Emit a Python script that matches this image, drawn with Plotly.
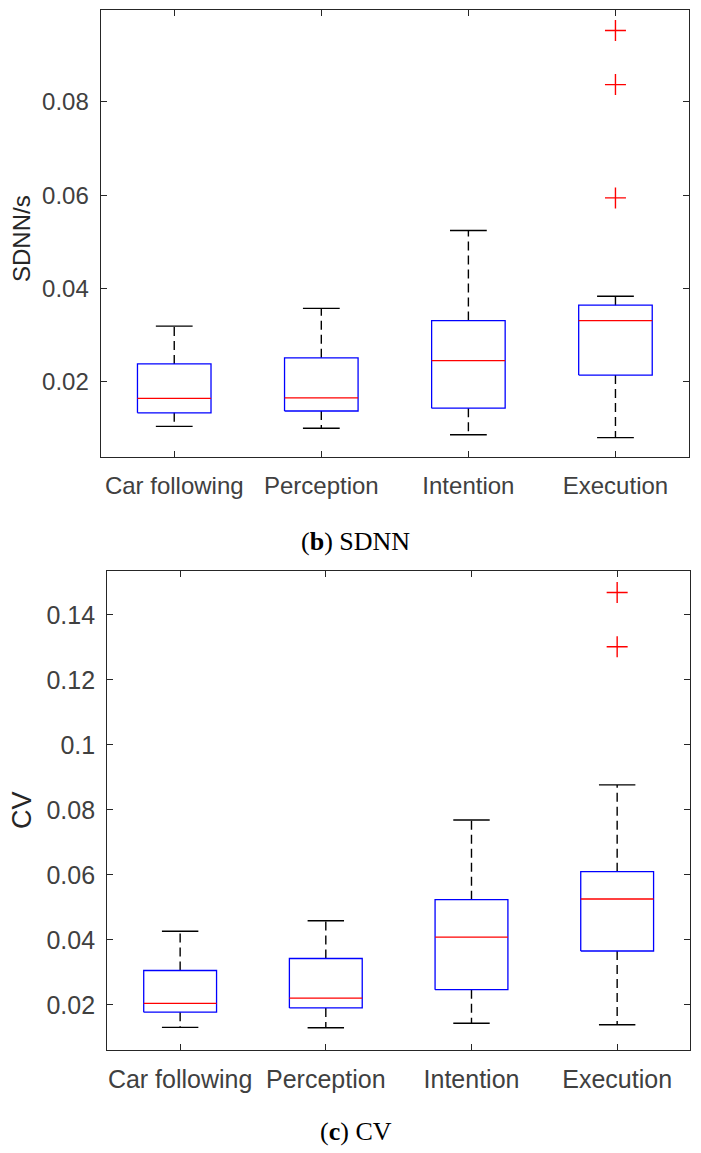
import plotly.graph_objects as go
from plotly.subplots import make_subplots

# categories on the x axis
categories = ["Car following", "Perception", "Intention", "Execution"]

# (b) SDNN box statistics
sdnn_lower = [0.0104, 0.0100, 0.0086, 0.0080]
sdnn_q1 = [0.0133, 0.0137, 0.0143, 0.0214]
sdnn_median = [0.0164, 0.0165, 0.0245, 0.0331]
sdnn_q3 = [0.0238, 0.0251, 0.0331, 0.0364]
sdnn_upper = [0.0319, 0.0357, 0.0524, 0.0383]
sdnn_out_cat = [3, 3, 3]
sdnn_out_val = [0.0953, 0.0837, 0.0594]

# (c) CV box statistics
cv_lower = [0.0131, 0.0130, 0.0144, 0.0139]
cv_q1 = [0.0178, 0.0191, 0.0247, 0.0366]
cv_median = [0.0205, 0.0221, 0.0409, 0.0526]
cv_q3 = [0.0306, 0.0343, 0.0524, 0.0610]
cv_upper = [0.0427, 0.0459, 0.0769, 0.0877]
cv_out_cat = [3, 3]
cv_out_val = [0.1469, 0.1302]

# tick labels
sdnn_ticks = [0.02, 0.04, 0.06, 0.08]
sdnn_ticktext = ["0.02", "0.04", "0.06", "0.08"]
cv_ticks = [0.02, 0.04, 0.06, 0.08, 0.10, 0.12, 0.14]
cv_ticktext = ["0.02", "0.04", "0.06", "0.08", "0.1", "0.12", "0.14"]

BOX_HALF = 0.25
CAP_HALF = 0.125
SANS = "Liberation Sans, Arial, sans-serif"
SERIF = "Liberation Serif, Times New Roman, serif"

# page body has an 8px margin, so the figure is drawn 8px smaller and shifted
OFF = 8
W, H = 701 - OFF, 1153 - OFF


def px(x):
    return (x - OFF) / W


def py(y):
    return 1 - (y - OFF) / H


fig = make_subplots(rows=2, cols=1)


def add_boxes(row, lower, q1, med, q3, upper, out_cat, out_val):
    wx, wy, cx, cy, bx, by, mx, my = [], [], [], [], [], [], [], []
    for i in range(len(categories)):
        # dashed whiskers
        wx += [i, i, None, i, i, None]
        wy += [q3[i], upper[i], None, q1[i], lower[i], None]
        # whisker caps
        cx += [i - CAP_HALF, i + CAP_HALF, None, i - CAP_HALF, i + CAP_HALF, None]
        cy += [upper[i], upper[i], None, lower[i], lower[i], None]
        # box
        bx += [i - BOX_HALF, i + BOX_HALF, i + BOX_HALF, i - BOX_HALF, i - BOX_HALF, None]
        by += [q1[i], q1[i], q3[i], q3[i], q1[i], None]
        # median
        mx += [i - BOX_HALF, i + BOX_HALF, None]
        my += [med[i], med[i], None]
    fig.add_trace(go.Scatter(x=wx, y=wy, mode="lines",
                             line=dict(color="black", width=1.4, dash="9px,5px")), row=row, col=1)
    fig.add_trace(go.Scatter(x=cx, y=cy, mode="lines",
                             line=dict(color="black", width=1.4)), row=row, col=1)
    fig.add_trace(go.Scatter(x=bx, y=by, mode="lines",
                             line=dict(color="#0000ff", width=1.3)), row=row, col=1)
    fig.add_trace(go.Scatter(x=mx, y=my, mode="lines",
                             line=dict(color="#ff0000", width=1.3)), row=row, col=1)
    fig.add_trace(go.Scatter(x=out_cat, y=out_val, mode="markers",
                             marker=dict(symbol="cross-thin", size=15,
                                         line=dict(color="#ff0000", width=1.4))),
                  row=row, col=1)


add_boxes(1, sdnn_lower, sdnn_q1, sdnn_median, sdnn_q3, sdnn_upper, sdnn_out_cat, sdnn_out_val)
add_boxes(2, cv_lower, cv_q1, cv_median, cv_q3, cv_upper, cv_out_cat, cv_out_val)

axis_common = dict(showline=True, mirror="allticks", linecolor="#262626", linewidth=1.3,
                   ticks="inside", ticklen=6, tickcolor="#262626", tickwidth=1.2,
                   showgrid=False, zeroline=False, automargin=False)

fig.update_xaxes(axis_common, range=[-0.5, 3.5], tickvals=list(range(len(categories))),
                 ticktext=categories, ticklabelstandoff=7)
fig.update_xaxes(domain=[px(100.7), px(689)],
                 tickfont=dict(family=SANS, size=24, color="#404040"), row=1, col=1)
fig.update_xaxes(domain=[px(107.3), px(690)],
                 tickfont=dict(family=SANS, size=25, color="#404040"), row=2, col=1)
fig.update_yaxes(axis_common, ticklabelstandoff=6)
fig.update_yaxes(domain=[py(456.7), py(10)], range=[0.0039, 0.0997],
                 tickvals=sdnn_ticks, ticktext=sdnn_ticktext,
                 tickfont=dict(family=SANS, size=24, color="#404040"), row=1, col=1)
fig.update_yaxes(domain=[py(1050), py(570.7)], range=[0.00615, 0.1536],
                 tickvals=cv_ticks, ticktext=cv_ticktext,
                 tickfont=dict(family=SANS, size=25, color="#404040"), row=2, col=1)

# axis titles and panel captions
fig.add_annotation(text="SDNN/s", x=px(22), y=py(239), xref="paper", yref="paper",
                   xanchor="center", yanchor="middle", textangle=-90, showarrow=False,
                   font=dict(family=SANS, size=24, color="#262626"))
fig.add_annotation(text="CV", x=px(22), y=py(810), xref="paper", yref="paper",
                   xanchor="center", yanchor="middle", textangle=-90, showarrow=False,
                   font=dict(family=SANS, size=27, color="#262626"))
fig.add_annotation(text="(<b>b</b>) SDNN", x=px(355.5), y=py(541.7), xref="paper",
                   yref="paper", xanchor="center", yanchor="middle", showarrow=False,
                   font=dict(family=SERIF, size=26, color="black"))
fig.add_annotation(text="(<b>c</b>) CV", x=px(356), y=py(1131), xref="paper",
                   yref="paper", xanchor="center", yanchor="middle", showarrow=False,
                   font=dict(family=SERIF, size=26, color="black"))

fig.update_layout(width=W, height=H, margin=dict(l=0, r=0, t=0, b=0),
                  plot_bgcolor="white", paper_bgcolor="white", showlegend=False)

fig.write_html("out.html")
